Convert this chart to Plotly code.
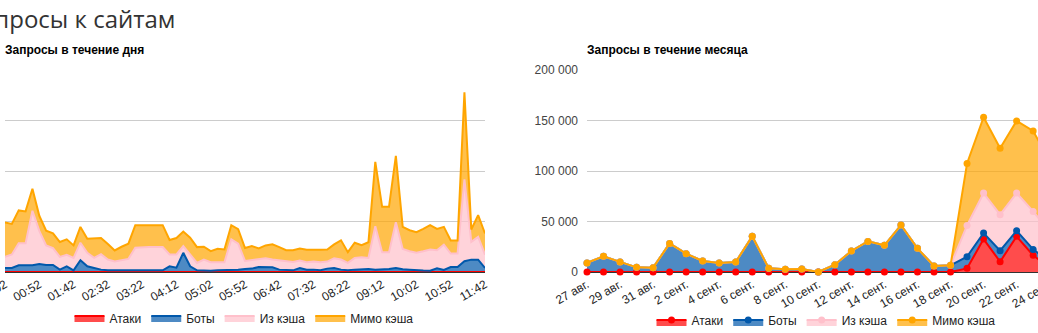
import pandas as pd
import plotly.graph_objects as go

# ---------------- day chart: 10-minute buckets ----------------
day_times = pd.date_range("2014-09-24 00:02", "2014-09-24 11:42", freq="10min")
day_tick_labels = ["00:02", "00:52", "01:42", "02:32", "03:22", "04:12", "05:02", "05:52",
                   "06:42", "07:32", "08:22", "09:12", "10:02", "10:52", "11:42"]

day_attacks = [0, 0, 0, 0, 0, 0, 0, 0, 0, 0, 0, 0, 0, 0, 0, 0, 0, 0, 0, 0,
               0, 0, 0, 0, 0, 0, 0, 0, 0, 0, 0, 0, 0, 0, 0, 0, 0, 0, 0, 0,
               0, 0, 0, 0, 0, 0, 0, 0, 0, 0, 0, 0, 0, 0, 0, 0, 0, 0, 0, 0,
               0, 0, 0, 0, 0, 0, 0, 0, 0, 0, 0]
day_bots = [80, 80, 133, 127, 133, 160, 140, 140, 47, 113, 33, 233, 113, 80, 47, 33, 33, 33, 33, 33,
            33, 33, 33, 33, 113, 87, 380, 113, 33, 27, 27, 33, 33, 40, 47, 60, 67, 100, 100, 93,
            47, 33, 33, 80, 47, 47, 33, 67, 80, 47, 33, 47, 55, 60, 46, 46, 60, 80, 53, 46,
            33, 30, 26, 73, 40, 99, 99, 212, 245, 245, 80]
day_cache = [220, 267, 434, 440, 1080, 653, 387, 333, 253, 227, 247, 347, 267, 200, 306, 214, 174, 194, 227, 447,
             460, 460, 460, 460, 234, 260, 133, 234, 147, 220, 166, 160, 160, 607, 513, 160, 166, 160, 173, 154,
             180, 174, 167, 147, 146, 160, 160, 140, 193, 200, 147, 233, 235, 218, 861, 345, 331, 907, 404, 365,
             351, 381, 418, 357, 503, 265, 265, 1622, 351, 450, 264]
day_miss = [680, 606, 653, 633, 434, 300, 293, 294, 293, 307, 247, 313, 280, 387, 320, 306, 220, 273, 300, 447,
            434, 434, 434, 434, 286, 326, 287, 333, 313, 253, 220, 267, 254, 280, 287, 255, 280, 207, 254, 300,
            266, 226, 233, 240, 247, 226, 247, 240, 274, 380, 213, 300, 240, 311, 1272, 900, 900, 1311, 437, 417,
            404, 443, 483, 424, 351, 259, 259, 1722, 245, 431, 418]

# ---------------- month chart: daily totals ----------------
month_dates = pd.date_range("2014-08-27", "2014-09-24", freq="D")
month_tick_dates = pd.date_range("2014-08-27", "2014-09-24", freq="2D")
month_tick_labels = ["27 авг.", "29 авг.", "31 авг.", "2 сент.", "4 сент.", "6 сент.", "8 сент.",
                     "10 сент.", "12 сент.", "14 сент.", "16 сент.", "18 сент.", "20 сент.",
                     "22 сент.", "24 сент."]

month_attacks = [0, 0, 0, 0, 0, 0, 0, 0, 0, 0, 0, 0, 0, 0, 0, 0, 0, 0, 0, 0, 0, 0, 0,
                 3600, 32600, 10200, 35300, 16500, 4000]
month_bots = [9000, 15500, 10000, 4600, 4300, 28300, 18100, 10900, 8900, 9900, 35300, 3600, 2600,
              3000, 0, 7200, 20800, 30300, 26400, 46500, 23400, 5900, 6600,
              11600, 6000, 10900, 5600, 5900, 6000]
month_cache = [0, 0, 0, 0, 0, 0, 0, 0, 0, 0, 0, 0, 0, 0, 0, 0, 0, 0, 0, 0, 0, 0, 0,
               30900, 39500, 35600, 37200, 37600, 30000]
month_miss = [0, 0, 0, 0, 0, 0, 0, 0, 0, 0, 0, 0, 0, 0, 0, 0, 0, 0, 0, 0, 0, 0, 0,
              61300, 75100, 65900, 71500, 79700, 70000]

y2_ticks = [0, 50000, 100000, 150000, 200000]
y2_tick_labels = ["0", "50 000", "100 000", "150 000", "200 000"]

series_names = ["Атаки", "Боты", "Из кэша", "Мимо кэша"]
line_colors = ["#ff0000", "#0158ab", "#ffc0cb", "#ffa500"]
fill_colors = ["rgba(255,0,0,0.7)", "rgba(1,88,171,0.7)", "rgba(255,192,203,0.7)", "rgba(255,165,0,0.7)"]

FONT = "Liberation Sans, Arial, sans-serif"
W, H = 1060, 333
TOP, BOTTOM = 70, 61
plot_h = H - TOP - BOTTOM

fig = go.Figure()

for name, vals, lc, fc in zip(series_names, [day_attacks, day_bots, day_cache, day_miss],
                              line_colors, fill_colors):
    fig.add_trace(go.Scatter(
        x=day_times, y=vals, name=name, mode="lines", stackgroup="day",
        line=dict(color=lc, width=2), fillcolor=fc,
        xaxis="x", yaxis="y", legend="legend",
    ))

for name, vals, lc, fc in zip(series_names, [month_attacks, month_bots, month_cache, month_miss],
                              line_colors, fill_colors):
    fig.add_trace(go.Scatter(
        x=month_dates, y=vals, name=name, mode="lines+markers", stackgroup="month",
        line=dict(color=lc, width=2), fillcolor=fc,
        marker=dict(color=lc, size=7), cliponaxis=False,
        xaxis="x2", yaxis="y2", legend="legend2",
    ))


def py(pixel_y):
    """Paper y coordinate for a pixel row of the page."""
    return (H - BOTTOM - pixel_y) / plot_h


fig.update_layout(
    template="none",
    width=W, height=H,
    margin=dict(l=0, r=0, t=TOP, b=BOTTOM, autoexpand=False),
    paper_bgcolor="white", plot_bgcolor="white",
    font=dict(family=FONT, size=12, color="#222"),
    showlegend=True,
    xaxis=dict(
        domain=[5 / W, 485 / W], type="date", automargin=False,
        range=[day_times[0], day_times[-1]],
        tickvals=[pd.Timestamp("2014-09-24 " + t) for t in day_tick_labels],
        ticktext=day_tick_labels, tickangle=-30, ticklabeloverflow="allow",
        tickfont=dict(size=12, color="#222"),
        showgrid=False, showline=True, linecolor="#333", linewidth=1,
        ticks="", layer="below traces", fixedrange=True,
    ),
    yaxis=dict(
        domain=[0, 1], anchor="x", range=[0, 4000], dtick=1000, tick0=0, automargin=False,
        showgrid=True, gridcolor="#cccccc", gridwidth=1,
        showticklabels=False, zeroline=False, ticks="", fixedrange=True,
    ),
    xaxis2=dict(
        domain=[587 / W, 1], type="date", anchor="y2", automargin=False,
        range=[month_dates[0], pd.Timestamp("2014-09-24 15:00")],
        tickvals=list(month_tick_dates), ticktext=month_tick_labels, tickangle=-30,
        ticklabeloverflow="allow",
        tickfont=dict(size=12, color="#222"),
        showgrid=False, showline=True, linecolor="#333", linewidth=1,
        ticks="", layer="below traces", fixedrange=True,
    ),
    yaxis2=dict(
        domain=[0, 1], anchor="x2", range=[0, 200000], automargin=False,
        tickvals=y2_ticks, ticktext=y2_tick_labels,
        tickfont=dict(size=12, color="#444"), ticklabelstandoff=8,
        showgrid=True, gridcolor="#cccccc", gridwidth=1,
        zeroline=False, ticks="", fixedrange=True,
    ),
    legend=dict(
        orientation="h", x=244 / W, xanchor="center", y=py(318), yanchor="middle",
        traceorder="normal", font=dict(size=12, color="#222"), itemwidth=30,
        bgcolor="rgba(0,0,0,0)",
    ),
    legend2=dict(
        orientation="h", x=826 / W, xanchor="center", y=py(320), yanchor="middle",
        traceorder="normal", font=dict(size=12, color="#222"), itemwidth=30,
        bgcolor="rgba(0,0,0,0)",
    ),
    annotations=[
        dict(text="Запросы к сайтам", xref="paper", yref="paper", x=-35 / W, y=py(18),
             xanchor="left", yanchor="middle", showarrow=False,
             font=dict(family="Open Sans, sans-serif", size=24, color="#333")),
        dict(text="<b>Запросы в течение дня</b>", xref="paper", yref="paper", x=3 / W, y=py(50),
             xanchor="left", yanchor="middle", showarrow=False,
             font=dict(family=FONT, size=12, color="#000")),
        dict(text="<b>Запросы в течение месяца</b>", xref="paper", yref="paper", x=585 / W, y=py(50),
             xanchor="left", yanchor="middle", showarrow=False,
             font=dict(family=FONT, size=12, color="#000")),
    ],
)

fig.write_html(
    "out.html",
    config={"displayModeBar": False, "responsive": False},
    post_script="document.documentElement.style.overflow='hidden';"
                "document.body.style.overflow='hidden';document.body.style.margin='0';",
)
